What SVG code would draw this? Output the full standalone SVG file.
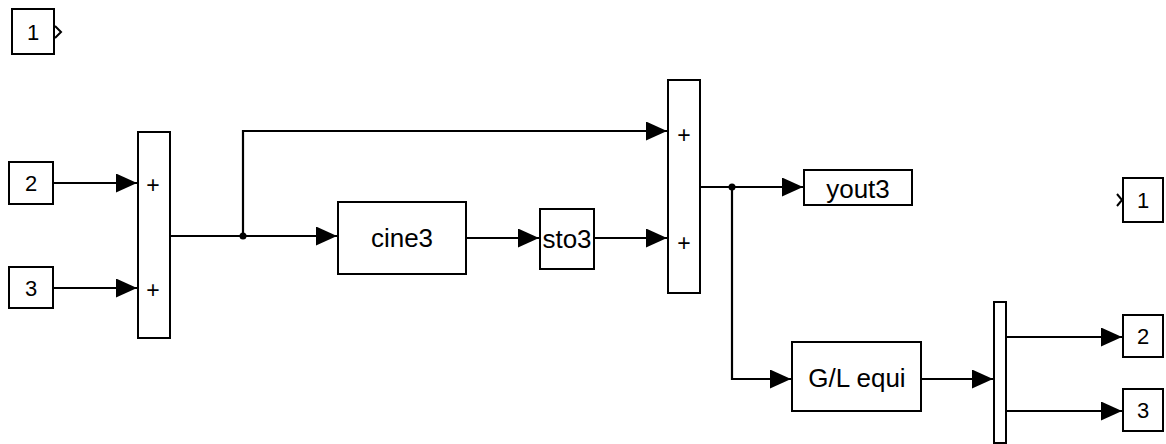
<svg xmlns="http://www.w3.org/2000/svg" width="1166" height="444" viewBox="0 0 1166 444">
<style>
.blk{fill:#fff;stroke:#000;stroke-width:2}
.t{font-family:"Liberation Sans",Arial,sans-serif;font-size:26px;fill:#000;text-anchor:middle;dominant-baseline:central}
.d{font-size:22px}
.p{font-family:"Liberation Sans",Arial,sans-serif;font-size:23px;fill:#000;text-anchor:middle;dominant-baseline:central}
.w{fill:none;stroke:#000;stroke-width:2.2}
.chev{fill:none;stroke:#000;stroke-width:2}
</style>
<defs>
<marker id="ah" markerUnits="userSpaceOnUse" markerWidth="23" markerHeight="21" refX="21" refY="9.5" orient="auto">
<path d="M0,0 L21,9.5 L0,19 z" fill="#000"/>
</marker>
</defs>
<rect width="1166" height="444" fill="#fff"/>
<g id="connectors">
<path class="w" d="M53,183 H137" marker-end="url(#ah)"/>
<path class="w" d="M53,288 H137" marker-end="url(#ah)"/>
<path class="w" d="M170,236 H337" marker-end="url(#ah)"/>
<path class="w" d="M243,236 V131 H667" marker-end="url(#ah)"/>
<path class="w" d="M466,238 H539" marker-end="url(#ah)"/>
<path class="w" d="M594,238 H667" marker-end="url(#ah)"/>
<path class="w" d="M700,187 H803" marker-end="url(#ah)"/>
<path class="w" d="M732,187 V379 H791" marker-end="url(#ah)"/>
<path class="w" d="M921,379 H993" marker-end="url(#ah)"/>
<path class="w" d="M1006,337 H1122" marker-end="url(#ah)"/>
<path class="w" d="M1006,411 H1122" marker-end="url(#ah)"/>
<circle cx="243" cy="236" r="3.5" fill="#000"/>
<circle cx="732" cy="187" r="3.5" fill="#000"/>
</g>
<g id="in1"><rect class="blk" x="12" y="9" width="42" height="45"/><text class="t d" x="33" y="32">1</text><polyline class="chev" points="55,26 61,32 55,38"/></g>
<g id="in2"><rect class="blk" x="9" y="162" width="44" height="42"/><text class="t d" x="31" y="183">2</text></g>
<g id="in3"><rect class="blk" x="9" y="267" width="44" height="41"/><text class="t d" x="31" y="288">3</text></g>
<g id="sum1"><rect class="blk" x="138" y="132" width="32" height="206"/><text class="p" x="153" y="185">+</text><text class="p" x="153" y="290">+</text></g>
<g id="cine3"><rect class="blk" x="338" y="202" width="128" height="72"/><text class="t" x="402" y="238">cine3</text></g>
<g id="sto3"><rect class="blk" x="540" y="209" width="54" height="60"/><text class="t" x="567" y="239">sto3</text></g>
<g id="sum2"><rect class="blk" x="668" y="80" width="32" height="213"/><text class="p" x="684" y="135">+</text><text class="p" x="684" y="243">+</text></g>
<g id="yout3"><rect class="blk" x="804" y="170" width="108" height="35"/><text class="t" x="858" y="189">yout3</text></g>
<g id="glequi"><rect class="blk" x="792" y="342" width="129" height="69"/><text class="t" x="857" y="378">G/L equi</text></g>
<g id="demux"><rect class="blk" x="994" y="302" width="12" height="141"/></g>
<g id="out1"><rect class="blk" x="1123" y="178" width="40" height="44"/><text class="t d" x="1143" y="200">1</text><polyline class="chev" points="1117,194 1122,200 1117,206"/></g>
<g id="out2"><rect class="blk" x="1123" y="315" width="40" height="42"/><text class="t d" x="1143" y="336">2</text></g>
<g id="out3"><rect class="blk" x="1123" y="389" width="40" height="42"/><text class="t d" x="1143" y="410">3</text></g>
</svg>
